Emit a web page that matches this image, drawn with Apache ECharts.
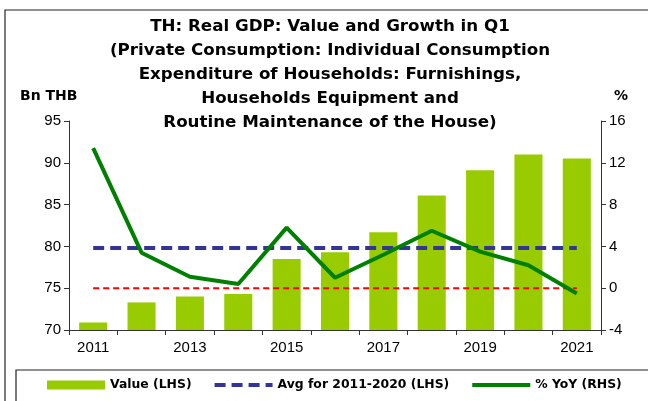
<!DOCTYPE html>
<html>
<head>
<meta charset="utf-8">
<script src="https://cdn.jsdelivr.net/npm/echarts@6/dist/echarts.min.js"></script>
<style>
  html, body { margin: 0; padding: 0; background: #fff; }
  #chart { width: 648px; height: 401px; }
</style>
</head>
<body>
<div id="chart"></div>
<script>
const years = ['2011', '2012', '2013', '2014', '2015', '2016', '2017', '2018', '2019', '2020', '2021'];
// Bn THB, left axis
const valueLhs = [70.9, 73.3, 74.0, 74.3, 78.5, 79.3, 81.7, 86.1, 89.1, 91.0, 90.5];
// average 2011-2020, left axis
const avgLhs = [79.8, 79.8, 79.8, 79.8, 79.8, 79.8, 79.8, 79.8, 79.8, 79.8, 79.8];
// % YoY, right axis
const yoyRhs = [13.4, 3.4, 1.1, 0.4, 5.8, 1.0, 3.2, 5.5, 3.5, 2.2, -0.5];
// zero reference on right axis
const zeroRhs = [0, 0, 0, 0, 0, 0, 0, 0, 0, 0, 0];

const titleLines = [
  'TH: Real GDP: Value and Growth in Q1',
  '(Private Consumption: Individual Consumption',
  'Expenditure of Households: Furnishings,',
  'Households Equipment and',
  'Routine Maintenance of the House)'
];

const fontFamily = '"Liberation Sans", Arial, sans-serif';
const boldFamily = '"DejaVu Sans", "Liberation Sans", sans-serif';
const axisColor = '#333';

const chart = echarts.init(document.getElementById('chart'), null, { renderer: 'canvas' });

// legend entries for lines: show only the stroke, no marker
const hideSymbol = { color: 'rgba(0,0,0,0)', borderWidth: 0, opacity: 0 };

const option = {
  animation: false,
  textStyle: { fontFamily: fontFamily },
  title: {
    text: titleLines.join('\n'),
    left: 325,
    top: 10,
    textAlign: 'center',
    textStyle: {
      fontFamily: boldFamily,
      fontSize: 16.7,
      fontWeight: 'bold',
      color: '#000',
      lineHeight: 24
    }
  },
  graphic: [
    {
      type: 'rect',
      shape: { x: 5, y: 10, width: 700, height: 500 },
      style: { fill: 'none', stroke: '#222', lineWidth: 1.2 },
      silent: true
    },
    {
      type: 'rect',
      shape: { x: 16, y: 370, width: 700, height: 60 },
      style: { fill: 'none', stroke: '#222', lineWidth: 1.2 },
      silent: true
    },
    {
      type: 'text',
      left: 20,
      top: 89,
      style: { text: 'Bn THB', font: 'bold 14px ' + boldFamily, fill: '#000' }
    },
    {
      type: 'text',
      left: 614,
      top: 89,
      style: { text: '%', font: 'bold 14px ' + boldFamily, fill: '#000' }
    }
  ],
  legend: {
    top: 374,
    left: 42,
    itemWidth: 58,
    itemHeight: 9,
    itemGap: 21,
    textStyle: { fontSize: 12.4, fontWeight: 'bold', color: '#000', fontFamily: boldFamily },
    data: [
      { name: 'Value (LHS)', icon: 'rect' },
      { name: 'Avg for 2011-2020 (LHS)', itemStyle: hideSymbol, lineStyle: { width: 4 } },
      { name: '% YoY (RHS)', itemStyle: hideSymbol, lineStyle: { width: 4 } }
    ]
  },
  grid: {
    left: 69,
    right: 47,
    top: 121,
    bottom: 71,
    containLabel: false
  },
  xAxis: {
    type: 'category',
    data: years,
    boundaryGap: true,
    axisLine: { onZero: false, lineStyle: { color: axisColor, width: 1 } },
    axisTick: { show: true, interval: 0, length: 5, lineStyle: { color: axisColor } },
    axisLabel: { interval: 1, color: '#000', fontSize: 15, margin: 10 },
    splitLine: { show: false }
  },
  yAxis: [
    {
      type: 'value',
      min: 70,
      max: 95,
      interval: 5,
      axisLine: { show: true, lineStyle: { color: axisColor } },
      axisTick: { show: true, length: 5, lineStyle: { color: axisColor } },
      axisLabel: { color: '#000', fontSize: 15, margin: 8 },
      splitLine: { show: false }
    },
    {
      type: 'value',
      min: -4,
      max: 16,
      interval: 4,
      axisLine: { show: true, lineStyle: { color: axisColor } },
      axisTick: { show: true, length: 5, lineStyle: { color: axisColor } },
      axisLabel: { color: '#000', fontSize: 15, margin: 8 },
      splitLine: { show: false }
    }
  ],
  series: [
    {
      name: 'Value (LHS)',
      type: 'bar',
      data: valueLhs,
      barWidth: '58%',
      itemStyle: { color: '#99cc00' },
      z: 1
    },
    {
      name: 'Zero (RHS)',
      type: 'line',
      yAxisIndex: 1,
      data: zeroRhs,
      symbol: 'none',
      lineStyle: { color: '#ff0000', width: 2, type: [6, 4] },
      z: 2
    },
    {
      name: 'Avg for 2011-2020 (LHS)',
      type: 'line',
      data: avgLhs,
      symbol: 'none',
      itemStyle: { color: '#333399' },
      lineStyle: { color: '#333399', width: 4, type: [11, 6] },
      z: 3
    },
    {
      name: '% YoY (RHS)',
      type: 'line',
      yAxisIndex: 1,
      data: yoyRhs,
      symbol: 'none',
      itemStyle: { color: '#008000' },
      lineStyle: { color: '#008000', width: 4 },
      z: 4
    }
  ]
};

chart.setOption(option);
</script>
</body>
</html>
